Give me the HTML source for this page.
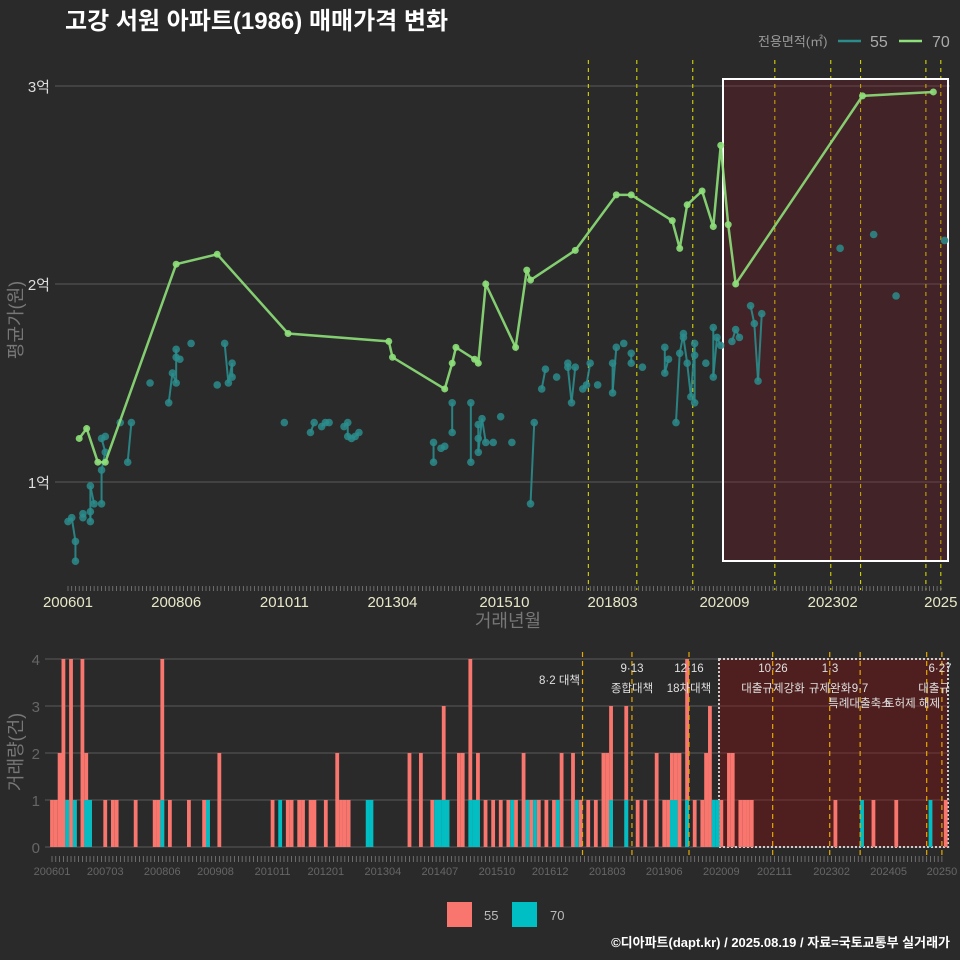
<!DOCTYPE html>
<html><head><meta charset="utf-8">
<style>
html,body{margin:0;padding:0;background:#2a2a2a;}
svg{display:block;font-family:"Liberation Sans","Noto Sans CJK KR",sans-serif;}
</style></head>
<body>
<svg id="chart" width="960" height="960" viewBox="0 0 960 960" xmlns="http://www.w3.org/2000/svg">
<rect x="0" y="0" width="960" height="960" fill="#2a2a2a"/>
<text x="65" y="29" fill="#ffffff" font-size="24" font-weight="bold">고강 서원 아파트(1986) 매매가격 변화</text>
<g>
<text x="758" y="46" fill="#999" font-size="13">전용면적(㎡)</text>
<line x1="838" y1="41" x2="861" y2="41" stroke="#2b8c8c" stroke-width="2.5"/>
<text x="870" y="47" fill="#aaa" font-size="16">55</text>
<line x1="899" y1="41" x2="922" y2="41" stroke="#8ee07a" stroke-width="2.5"/>
<text x="932" y="47" fill="#aaa" font-size="16">70</text>
</g>
<g id="topPanel"></g>
<g id="botPanel"></g>
<text x="0" y="0" transform="translate(22,320) rotate(-90)" text-anchor="middle" fill="#777" font-size="18">평균가(원)</text>
<text x="508" y="627" text-anchor="middle" fill="#777" font-size="18">거래년월</text>
<text x="0" y="0" transform="translate(22,752) rotate(-90)" text-anchor="middle" fill="#777" font-size="18">거래량(건)</text>
<g>
<rect x="447" y="902" width="25" height="25" fill="#f8766d"/>
<text x="484" y="920" fill="#bbb" font-size="13">55</text>
<rect x="512" y="902" width="25" height="25" fill="#00bfc4"/>
<text x="550" y="920" fill="#bbb" font-size="13">70</text>
</g>
<text x="950" y="947" text-anchor="end" fill="#ffffff" font-size="13" font-weight="bold">©디아파트(dapt.kr) / 2025.08.19 / 자료=국토교통부 실거래가</text>
</svg>
<script>
// months since 2006-01
const m70 = [3,5,8,10,29,40,59,86,87,101,103,104,109,110,112,120,123,124,136,147,151,162,164,166,170,173,175,177,179,213,232];
const p70 = [12200,12700,11000,11000,21000,21500,17500,17100,16300,14700,16000,16800,16200,16000,20000,16800,20700,20200,21700,24500,24500,23200,21800,24000,24700,22900,27000,23000,20000,29500,29700];
const m55 = [0,1,2,2,4,4,6,6,6,7,9,9,10,9,10,14,16,17,22,27,28,29,29,29,30,33,40,42,43,44,44,58,65,66,68,69,70,74,75,75,76,77,78,98,98,100,101,103,103,108,108,110,110,110,111,112,114,116,119,124,125,127,128,131,134,134,135,136,138,139,140,142,146,146,147,149,151,151,154,160,160,161,163,164,165,165,166,167,168,168,168,171,173,173,174,175,178,179,180,183,184,185,186,207,216,222,235];
const p55 = [8000,8200,7000,6000,8400,8200,8500,8000,9800,8900,8900,10600,11500,12200,12300,13000,11000,13000,15000,14000,15500,15000,16700,16300,16200,17000,14900,17000,15000,16000,15300,13000,12500,13000,12800,13000,13000,12800,13000,12300,12200,12300,12500,12000,11000,11700,11800,14000,12500,14000,11000,12900,12200,11500,13200,12000,12000,13300,12000,8900,13000,14700,15700,15300,16000,15800,14000,15800,14700,14900,16000,14900,16000,14500,16800,17000,16500,16000,15800,16800,15500,16200,13000,16500,17500,17300,16000,14300,17000,16400,14000,16000,17800,15300,17300,16900,17100,17700,17300,18900,18000,15100,18500,21800,22500,19400,22200];
const priceTicks = [10000,20000,30000];
const priceTickLabels = ["1억","2억","3억"];
const topTickMonths = [0,29,58,87,117,146,176,205,234];
const topTickLabels = ["200601","200806","201011","201304","201510","201803","202009","202302","2025"];
const volMonths55 = [0,1,2,3,4,5,6,8,9,10,14,16,17,22,27,28,29,31,36,40,41,44,58,62,63,65,66,68,69,72,75,76,77,78,94,97,100,103,104,107,108,110,112,114,116,118,120,122,124,126,128,130,132,134,137,139,141,143,145,146,147,151,154,156,159,161,162,163,164,165,167,169,171,172,173,176,178,179,181,182,183,184,206,216,222,235];
const volCounts55 = [1,1,2,4,1,4,1,4,2,1,1,1,1,1,1,1,4,1,1,1,1,2,1,1,1,1,1,1,1,1,2,1,1,1,2,2,1,3,1,2,2,4,2,1,1,1,1,1,2,1,1,1,1,2,2,1,1,1,2,2,3,3,1,1,2,1,1,2,2,2,4,1,1,2,3,1,2,2,1,1,1,1,1,1,1,1];
const volMonths70 = [4,6,9,10,29,41,60,83,84,101,102,103,104,110,111,112,121,125,127,133,138,147,151,163,164,167,174,175,213,231];
const volCounts70 = [1,1,1,1,1,1,1,1,1,1,1,1,1,1,1,1,1,1,1,1,1,1,1,1,1,1,1,1,1,1];
const volTicks = [0,1,2,3,4];
const botTickMonths = [0,14,29,43,58,72,87,102,117,131,146,161,176,190,205,220,234];
const botTickLabels = ["200601","200703","200806","200908","201011","201201","201304","201407","201510","201612","201803","201906","202009","202111","202302","202405","20250"];
const policyMonths = [139.5,152.5,167.5,189.5,204.5,212.5,230,234];

const NS="http://www.w3.org/2000/svg";
function mk(tag,attrs,parent,name){const e=document.createElementNS(NS,tag);for(const k in attrs)e.setAttribute(k,attrs[k]);


parent.appendChild(e);return e;}
const topG=document.getElementById('topPanel'), botG=document.getElementById('botPanel');
const xT=m=>68+m*3.73, yT=p=>482-(p-10000)*0.0198;
const xB=m=>52+m*3.803, yB=c=>847-c*47;

priceTicks.forEach((p,i)=>{mk('line',{x1:55,x2:950,y1:yT(p),y2:yT(p),stroke:'#5a5a5a','stroke-width':1},topG,'price-gridline');
const t=mk('text',{x:50,y:yT(p)+6,'text-anchor':'end',fill:'#ddd','font-size':15},topG,'price-tick-label');t.textContent=priceTickLabels[i];});
policyMonths.forEach(m=>{mk('line',{x1:xT(m),x2:xT(m),y1:60,y2:590,stroke:'#e6e600','stroke-width':1,'stroke-dasharray':'4,4'},topG,'policy-line');});
mk('rect',{x:723,y:79,width:225,height:482,fill:'rgba(140,14,30,0.25)',stroke:'#ffffff','stroke-width':2},topG,'highlight-box');
for(let m=0;m<=234;m++){mk('line',{x1:xT(m),x2:xT(m),y1:586,y2:591,stroke:'#888','stroke-width':0.7},topG,'x-minor-tick');}
topTickMonths.forEach((m,i)=>{const t=mk('text',{x:xT(m),y:607,'text-anchor':'middle',fill:'#e8e8c8','font-size':15},topG,'x-tick-label');t.textContent=topTickLabels[i];});
const n55=Math.min(m55.length,p55.length);
for(let i=1;i<n55;i++){if(m55[i]-m55[i-1]<=1){mk('line',{x1:xT(m55[i-1]),y1:yT(p55[i-1]),x2:xT(m55[i]),y2:yT(p55[i]),stroke:'#2b8c8c','stroke-width':2,'stroke-opacity':0.9},topG,'series-55-segment');}}
for(let i=0;i<n55;i++){mk('circle',{cx:xT(m55[i]),cy:yT(p55[i]),r:3.8,fill:'#2b8c8c','fill-opacity':0.85},topG,'series-55-point');}
mk('polyline',{points:m70.map((m,i)=>xT(m)+','+yT(p70[i])).join(' '),fill:'none',stroke:'#8ee07a','stroke-width':2.5,'stroke-opacity':0.9},topG,'series-70-line');
m70.forEach((m,i)=>{mk('circle',{cx:xT(m),cy:yT(p70[i]),r:3.5,fill:'#8ee07a','fill-opacity':0.9},topG,'series-70-point');});

volTicks.forEach(c=>{mk('line',{x1:45,x2:950,y1:yB(c),y2:yB(c),stroke:'#5a5a5a','stroke-width':1},botG,'volume-gridline');
const t=mk('text',{x:40,y:yB(c)+6,'text-anchor':'end',fill:'#666','font-size':15},botG,'volume-tick-label');t.textContent=c;});
mk('rect',{x:719,y:659,width:229,height:188,fill:'rgba(150,10,10,0.35)',stroke:'#cccccc','stroke-width':2,'stroke-dasharray':'2,2'},botG,'volume-highlight-box');
const nv=Math.min(volMonths55.length,volCounts55.length);
for(let i=0;i<nv;i++){mk('rect',{x:xB(volMonths55[i])-1.9,y:yB(volCounts55[i]),width:3.8,height:volCounts55[i]*47,fill:'#f8766d'},botG,'bar-55');}
volMonths70.forEach((m,i)=>{mk('rect',{x:xB(m)-1.9,y:yB(volCounts70[i]),width:3.8,height:volCounts70[i]*47,fill:'#00bfc4'},botG,'bar-70');});
policyMonths.forEach(m=>{mk('line',{x1:xB(m),x2:xB(m),y1:652,y2:855,stroke:'#e6a800','stroke-width':1.2,'stroke-dasharray':'5,4'},botG,'volume-policy-line');});
for(let m=0;m<=234;m++){mk('line',{x1:xB(m),x2:xB(m),y1:856,y2:862,stroke:'#888','stroke-width':0.7},botG,'volume-minor-tick');}
botTickMonths.forEach((m,i)=>{const t=mk('text',{x:xB(m),y:875,'text-anchor':'middle',fill:'#666','font-size':11},botG,'volume-x-tick-label');t.textContent=botTickLabels[i];});
const ann=[[580,684,'end','8·2 대책'],[632,672,'middle','9·13'],[632,692,'middle','종합대책'],[689,672,'middle','12·16'],[689,692,'middle','18차대책'],[773,672,'middle','10·26'],[773,692,'middle','대출규제강화'],[830,672,'middle','1·3'],[830,692,'middle','규제완화'],[860,692,'middle','9·7'],[860,707,'middle','특례대출축소'],[912,707,'middle','토허제 해제'],[940,672,'middle','6·27'],[950,692,'end','대출규']];
ann.forEach(a=>{const t=mk('text',{x:a[0],y:a[1],'text-anchor':a[2],fill:'#e0e0e0','font-size':11.5},botG,'policy-annotation');t.textContent=a[3];});
</script>
</body></html>
